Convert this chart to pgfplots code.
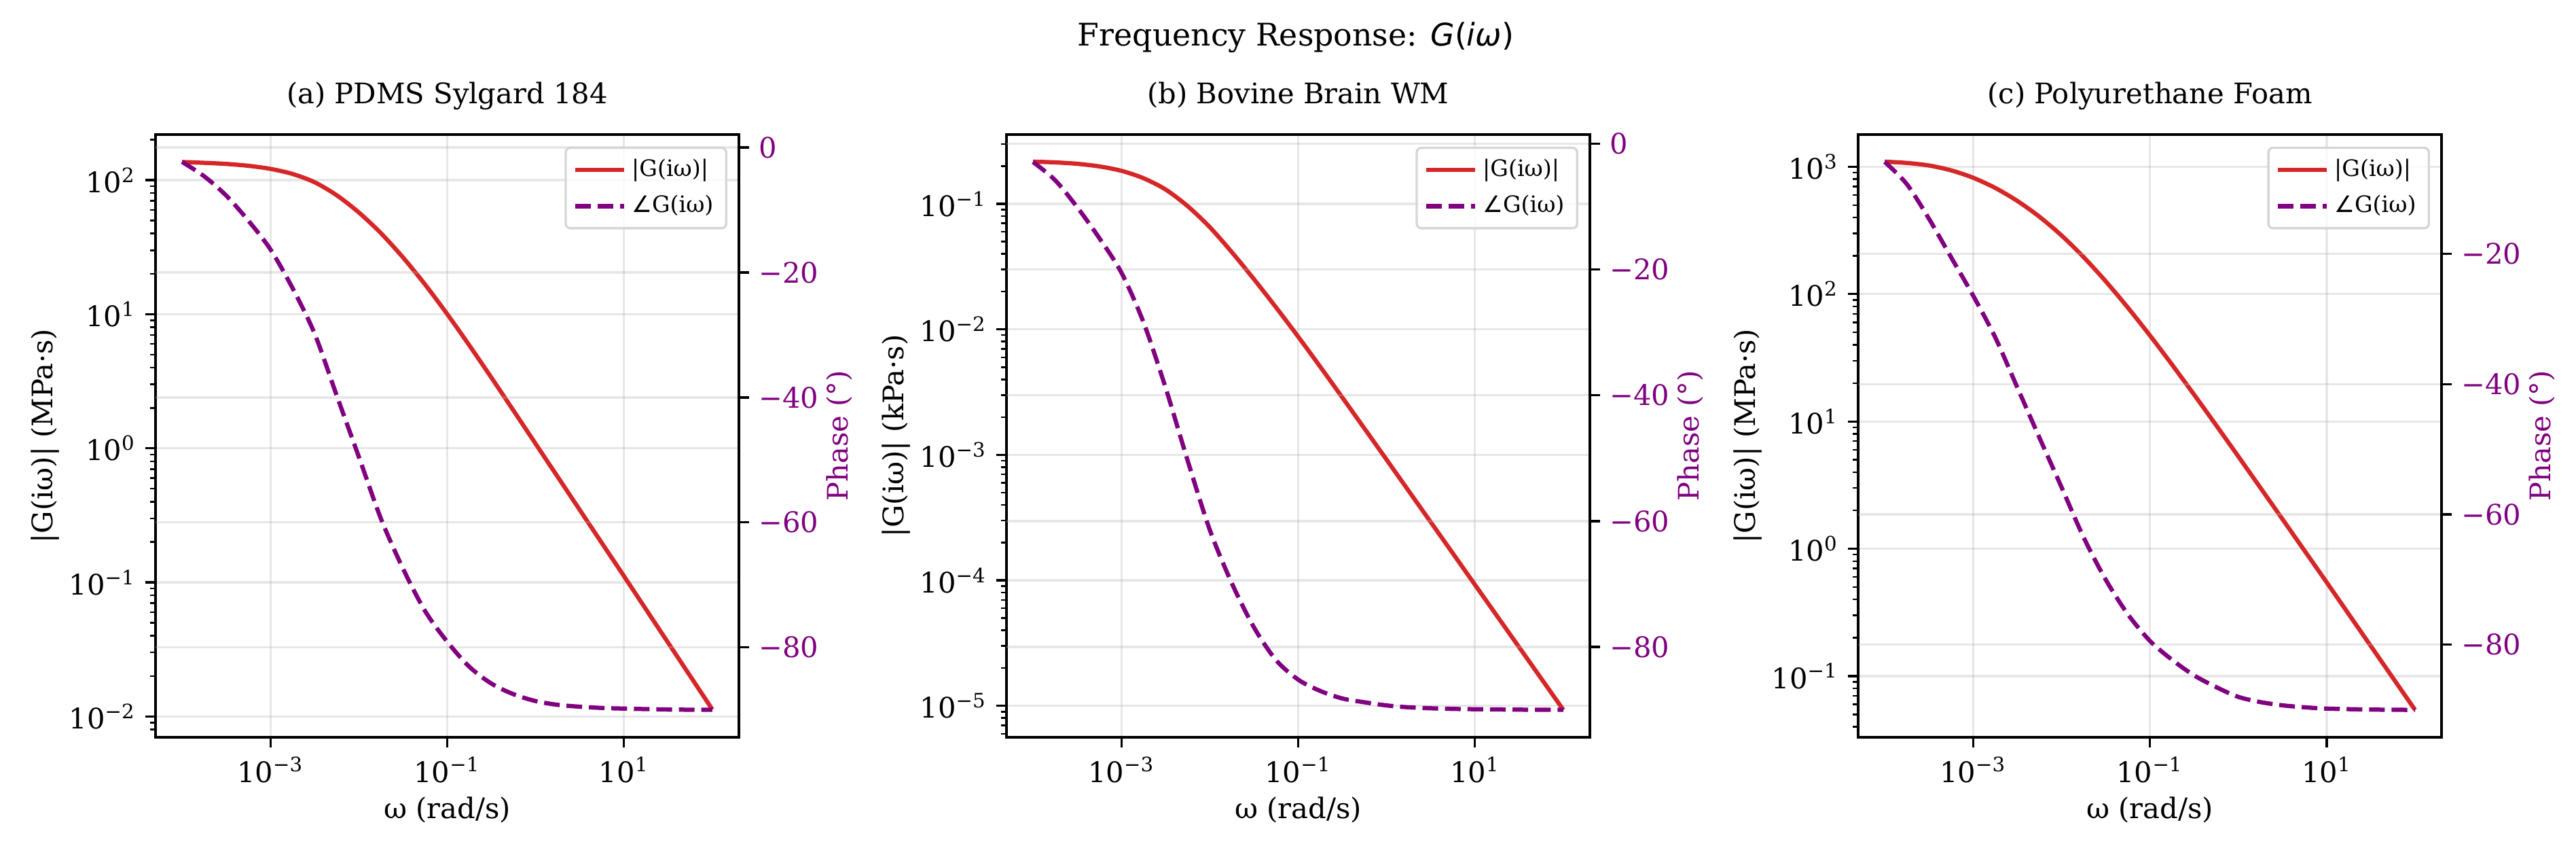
\documentclass[border=0pt]{standalone}
\usepackage{fontspec}
\setmainfont{DejaVu Serif}
\newfontfamily\dvsans{DejaVu Sans}
\usepackage{pgfplots}
\usepackage{pgfplotstable}
\pgfplotsset{compat=1.18}
\definecolor{myred}{HTML}{D62728}
\definecolor{mypurple}{HTML}{800080}
\definecolor{gridc}{RGB}{176,176,176}
\definecolor{legframe}{RGB}{214,214,214}

\pgfplotstableread{
w mag ph
1e-4 136.5 -2.3
1.778e-4 134.6 -4.6
3.162e-4 132.1 -7.7
5.623e-4 127.9 -11.7
1e-3 121.3 -16.3
1.778e-3 111.2 -22.5
3.162e-3 96.4 -29.8
5.623e-3 77.1 -39.7
1e-2 57.4 -49.5
1.778e-2 40.2 -59.4
3.162e-2 26.5 -67.4
5.623e-2 16.63 -74.2
0.1 10.02 -79.1
0.1778 5.861 -83.1
0.3162 3.365 -85.8
0.5623 1.910 -87.5
1 1.081 -88.6
1.778 0.6124 -89.2
3.162 0.3467 -89.5
5.623 0.1963 -89.7
10 0.1112 -89.8
31.62 0.03540 -89.95
100 0.01127 -90.0
}\tabA

\pgfplotstableread{
w mag ph
1e-4 0.2173 -2.9
1.778e-4 0.2143 -5.8
3.162e-4 0.2089 -10.1
5.623e-4 0.1991 -15.0
1e-3 0.1837 -20.5
1.778e-3 0.1603 -28.4
3.162e-3 0.1303 -38.8
5.623e-3 0.09594 -50.4
1e-2 0.06531 -61.4
1.778e-2 0.04121 -69.9
3.162e-2 0.02512 -76.9
5.623e-2 0.01496 -82.1
0.1 0.008750 -85.2
0.1778 0.005035 -87.0
0.3162 0.002864 -88.2
0.5623 0.001622 -88.8
1 9.162e-4 -89.3
1.778 5.164e-4 -89.6
3.162 2.911e-4 -89.75
5.623 1.641e-4 -89.85
10 9.226e-5 -89.9
31.62 2.931e-5 -89.97
100 9.290e-6 -90.0
}\tabB

\pgfplotstableread{
w mag ph
1e-4 1096.5 -5.9
1.778e-4 1071.5 -9.3
3.162e-4 1023.3 -14.6
5.623e-4 937.6 -20.5
1e-3 820.4 -26.4
1.778e-3 682.3 -32.8
3.162e-3 539.5 -40.5
5.623e-3 405.5 -48.2
1e-2 289.1 -55.8
1.778e-2 195.4 -63.5
3.162e-2 126.2 -70.0
5.623e-2 78.52 -75.3
0.1 47.42 -79.4
0.1778 27.99 -82.3
0.3162 16.26 -84.7
0.5623 9.333 -86.5
1 5.321 -88.0
1.778 3.020 -88.8
3.162 1.710 -89.3
5.623 0.9661 -89.6
10 0.5458 -89.8
31.62 0.1722 -89.95
100 0.05433 -90.0
}\tabC

\pgfplotsset{
  magaxis/.style={
    scale only axis, width=206.16pt, height=212.88pt, anchor=south west,
    tick align=outside,
    major tick length=3.5pt, minor tick length=2pt,
    every tick/.style={black, line width=0.8pt},
    every minor tick/.style={black, line width=0.6pt},
    major grid style={gridc, opacity=0.3, line width=0.8pt},
    tick label style={font=\fontsize{10}{12}\selectfont},
    label style={font=\fontsize{10}{12}\selectfont},
    xtick={1e-3,1e-1,1e1},
    xticklabels={10\textsuperscript{−3},10\textsuperscript{−1},10\textsuperscript{1}},
    xminorticks=false,
    xtick pos=bottom, ytick pos=left,
    grid=major,
    axis line style={black, line width=0.8pt},
    xlabel={ω (rad/s)},
    xlabel style={at={(axis description cs:0.5,0)}, anchor=center, yshift=-25.7pt},
    ylabel style={at={(axis description cs:0,0.5)}, anchor=center, yshift=39.1pt},
    title style={at={(axis description cs:0.5,1)}, anchor=base, yshift=4.8pt, font=\fontsize{10}{12}\selectfont},
  },
  phaseaxis/.style={
    scale only axis, width=206.16pt, height=212.88pt, anchor=south west,
    tick align=outside,
    major tick length=3.5pt, minor tick length=2pt,
    every tick/.style={black, line width=0.8pt},
    major grid style={gridc, opacity=0.3, line width=0.8pt},
    tick label style={font=\fontsize{10}{12}\selectfont},
    label style={font=\fontsize{10}{12}\selectfont},
    axis x line=none, axis y line*=right,
    y axis line style={-, black, line width=0.8pt},
    ymajorgrids, yminorticks=false,
    yticklabel style={text=mypurple},
    ylabel={Phase (°)},
    ylabel style={text=mypurple, at={(axis description cs:1,0.5)}, anchor=center, yshift=-35.5pt},
    legend style={at={(1,1)}, anchor=north east, xshift=-4.1pt, yshift=-4.3pt,
      draw=legframe, line width=0.8pt, rounded corners=1.6pt,
      fill=white, fill opacity=0.8, text opacity=1,
      font=\fontsize{8}{9.6}\selectfont, cells={anchor=west},
      inner xsep=2.5pt, inner ysep=2pt, row sep=1.2pt},
    legend image code/.code={\draw[##1] (0pt,0pt) -- (17.3pt,0pt);},
  },
  magline/.style={myred, line width=1.5pt, smooth},
  phline/.style={mypurple, line width=1.5pt, dash pattern=on 5.55pt off 2.4pt, smooth},
}

\begin{document}
\begin{tikzpicture}
\useasboundingbox (0,0) rectangle (910.32pt,298.8pt);
\node[anchor=base, font=\fontsize{11}{13}\selectfont] at (457.9pt,282.5pt)
  {Frequency Response: {\dvsans\itshape G}{\dvsans(}{\dvsans\itshape iω}{\dvsans)}};

% ---------- (a) ----------
\begin{axis}[xmode=log, ymode=log, xmin=5.012e-5, xmax=199.5, magaxis, at={(54.96pt,38.4pt)},
  ymin=6.998e-3, ymax=218.8,
  ytick={1e-2,1e-1,1,1e1,1e2},
  yticklabels={10\textsuperscript{−2},10\textsuperscript{−1},10\textsuperscript{0},10\textsuperscript{1},10\textsuperscript{2}},
  minor ytick={0.008,0.009,0.02,0.03,0.04,0.05,0.06,0.07,0.08,0.09,0.2,0.3,0.4,0.5,0.6,0.7,0.8,0.9,2,3,4,5,6,7,8,9,20,30,40,50,60,70,80,90,200},
  ylabel={|G(iω)| (MPa·s)},
  title={(a) PDMS Sylgard 184}]
\addplot[magline] table[x=w,y=mag]{\tabA};
\end{axis}
\begin{axis}[xmode=log, xmin=5.012e-5, xmax=199.5, phaseaxis, at={(54.96pt,38.4pt)},
  ymin=-94.39, ymax=2.08,
  ytick={0,-20,-40,-60,-80}, yticklabels={0,−20,−40,−60,−80}]
\addlegendimage{myred, line width=1.5pt}
\addlegendentry{|G(iω)|}
\addplot[phline] table[x=w,y=ph]{\tabA};
\addlegendentry{{\dvsans ∠}G(iω)}
\end{axis}

% ---------- (b) ----------
\begin{axis}[xmode=log, ymode=log, xmin=5.012e-5, xmax=199.5, magaxis, at={(355.68pt,38.4pt)},
  ymin=5.623e-6, ymax=0.3573,
  ytick={1e-5,1e-4,1e-3,1e-2,1e-1},
  yticklabels={10\textsuperscript{−5},10\textsuperscript{−4},10\textsuperscript{−3},10\textsuperscript{−2},10\textsuperscript{−1}},
  minor ytick={6e-6,7e-6,8e-6,9e-6,2e-5,3e-5,4e-5,5e-5,6e-5,7e-5,8e-5,9e-5,2e-4,3e-4,4e-4,5e-4,6e-4,7e-4,8e-4,9e-4,0.002,0.003,0.004,0.005,0.006,0.007,0.008,0.009,0.02,0.03,0.04,0.05,0.06,0.07,0.08,0.09,0.2,0.3},
  ylabel={|G(iω)| (kPa·s)},
  title={(b) Bovine Brain WM}]
\addplot[magline] table[x=w,y=mag]{\tabB};
\end{axis}
\begin{axis}[xmode=log, xmin=5.012e-5, xmax=199.5, phaseaxis, at={(355.68pt,38.4pt)},
  ymin=-94.36, ymax=1.46,
  ytick={0,-20,-40,-60,-80}, yticklabels={0,−20,−40,−60,−80}]
\addlegendimage{myred, line width=1.5pt}
\addlegendentry{|G(iω)|}
\addplot[phline] table[x=w,y=ph]{\tabB};
\addlegendentry{{\dvsans ∠}G(iω)}
\end{axis}

% ---------- (c) ----------
\begin{axis}[xmode=log, ymode=log, xmin=5.012e-5, xmax=199.5, magaxis, at={(656.64pt,38.4pt)},
  ymin=0.03311, ymax=1791,
  ytick={1e-1,1,1e1,1e2,1e3},
  yticklabels={10\textsuperscript{−1},10\textsuperscript{0},10\textsuperscript{1},10\textsuperscript{2},10\textsuperscript{3}},
  minor ytick={0.04,0.05,0.06,0.07,0.08,0.09,0.2,0.3,0.4,0.5,0.6,0.7,0.8,0.9,2,3,4,5,6,7,8,9,20,30,40,50,60,70,80,90,200,300,400,500,600,700,800,900},
  ylabel={|G(iω)| (MPa·s)},
  title={(c) Polyurethane Foam}]
\addplot[magline] table[x=w,y=mag]{\tabC};
\end{axis}
\begin{axis}[xmode=log, xmin=5.012e-5, xmax=199.5, phaseaxis, at={(656.64pt,38.4pt)},
  ymin=-94.2, ymax=-1.7,
  ytick={-20,-40,-60,-80}, yticklabels={−20,−40,−60,−80}]
\addlegendimage{myred, line width=1.5pt}
\addlegendentry{|G(iω)|}
\addplot[phline] table[x=w,y=ph]{\tabC};
\addlegendentry{{\dvsans ∠}G(iω)}
\end{axis}
\end{tikzpicture}
\end{document}
